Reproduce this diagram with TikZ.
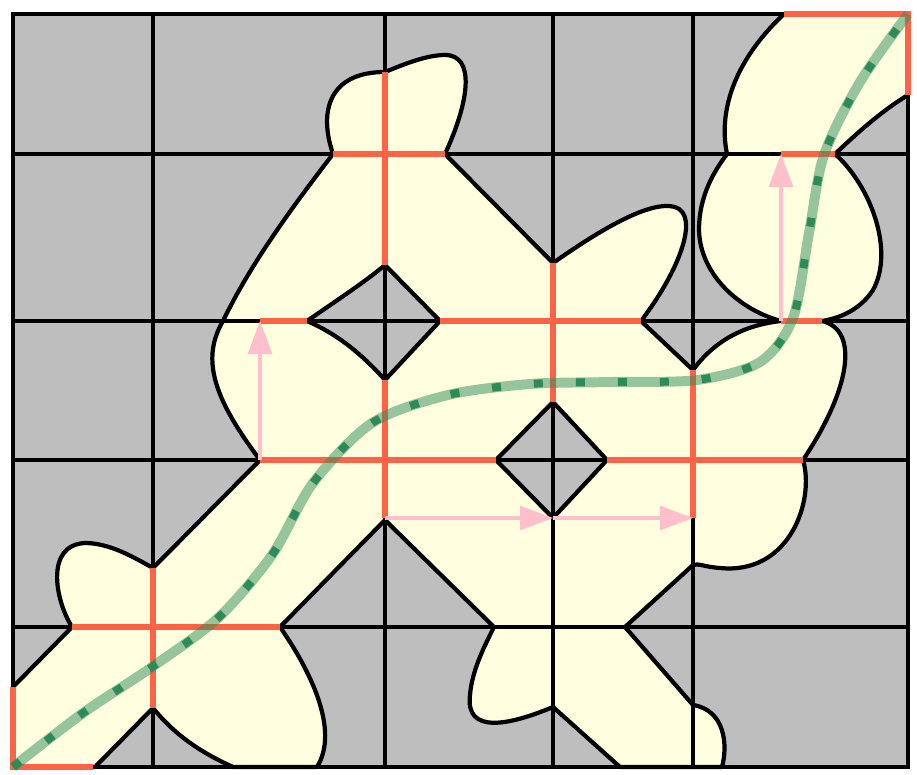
\documentclass[tikz,border=0pt]{standalone}
\usetikzlibrary{arrows.meta}
\definecolor{cellgray}{RGB}{190,190,190}
\definecolor{cellyellow}{RGB}{255,255,224}
\definecolor{tomato}{RGB}{255,99,71}
\definecolor{pinkish}{RGB}{255,192,203}
\definecolor{seagreen}{RGB}{46,139,87}
\begin{document}
\begin{tikzpicture}[x=0.3mm,y=-0.3mm,
		edge/.style={line width=3.6pt},
		cut/.style={tomato,line width=5.4pt},
		hop/.style={pinkish,line width=2.6pt,-{Triangle[length=9.9mm,width=7.2mm]}},
		route/.style={seagreen,line width=6.8pt,dash pattern=on 2.7mm off 9.9mm,
			preaction={draw,solid,seagreen,opacity=0.5,line width=8.5pt}}]
	\path
	(260,460) coordinate (A)
	(260,321) coordinate (B)
	(781,321) coordinate (C)
	(781,154) coordinate (D)
	(385,518) coordinate (E)
	(553,518) coordinate (F)
	(693,518) coordinate (G)
	(13,767) coordinate (S)
	(908,14) coordinate (T);
	
	\useasboundingbox (0,0) rectangle (917,775);
	\fill[cellgray] (13,14) rectangle (908,767);
	
	\path[fill=cellyellow,draw=black,edge,even odd rule,line join=round]
	(S) -- (13,687) -- (72,627)
	.. controls (55,600) and (45,545) .. (85,543)
	.. controls (110,543) and (135,558) .. (153,568)
	-- (A)
	.. controls (215,400) and (200,360) .. (223,321)
	.. controls (250,265) and (290,210) .. (333,154)
	.. controls (318,110) and (330,72) .. (385,72)
	.. controls (400,66) and (425,55) .. (445,55)
	.. controls (475,55) and (470,100) .. (445,154)
	-- (553,263)
	.. controls (600,230) and (650,200) .. (675,207)
	.. controls (700,215) and (680,270) .. (641,321)
	-- (693,370)
	.. controls (715,340) and (745,325) .. (C)
	.. controls (740,310) and (700,275) .. (699,230)
	.. controls (699,195) and (715,170) .. (727,154)
	.. controls (718,110) and (735,60) .. (784,14)
	-- (T) -- (908,95)
	.. controls (880,112) and (855,135) .. (835,154)
	.. controls (870,185) and (895,250) .. (873,290)
	.. controls (860,310) and (840,318) .. (822,321)
	.. controls (860,330) and (850,390) .. (803,460)
	.. controls (815,500) and (790,575) .. (720,568)
	.. controls (705,567) and (698,563) .. (693,565)
	-- (625,627) -- (693,705)
	.. controls (725,710) and (728,745) .. (722,767)
	-- (620,767) -- (553,707)
	.. controls (510,725) and (465,735) .. (470,695)
	.. controls (472,670) and (485,645) .. (494,627)
	-- (385,520) -- (280,627)
	.. controls (310,670) and (340,730) .. (317,767)
	-- (233,767)
	.. controls (200,752) and (175,735) .. (153,708)
	-- (95,767) -- cycle
	(385,265) -- (440,321) -- (385,380)
	.. controls (360,352) and (335,333) .. (307,321)
	.. controls (330,305) and (365,282) .. (385,265) -- cycle
	(553,402) -- (607,460) -- (553,518) -- (496,460) -- cycle;
	
	\foreach \x in {153,385,553,693} \draw[edge] (\x,14) -- (\x,767);
	\foreach \y in {154,321,460,627} \draw[edge] (13,\y) -- (908,\y);
	\draw[edge] (13,14) rectangle (908,767);
	
	\draw[cut] (13,687) -- (S) -- (93,767);
	\draw[cut] (153,568) -- (153,708);
	\draw[cut] (72,627) -- (280,627);
	\draw[cut] (A) -- (496,460);
	\draw[cut] (385,380) -- (E);
	\draw[cut] (B) -- (307,321);
	\draw[cut] (440,321) -- (641,321);
	\draw[cut] (553,263) -- (553,402);
	\draw[cut] (385,72) -- (385,265);
	\draw[cut] (333,154) -- (445,154);
	\draw[cut] (607,460) -- (803,460);
	\draw[cut] (693,370) -- (G);
	\draw[cut] (C) -- (822,321);
	\draw[cut] (D) -- (835,154);
	\draw[cut] (784,14) -- (T) -- (908,95);
	
	\draw[hop] (A) -- (B);
	\draw[hop] (C) -- (D);
	\draw[hop] (E) -- (F);
	\draw[hop] (F) -- (G);
	
	\draw[route] plot[smooth,tension=0.5] coordinates {(S) (83,713) (152,667) (218,618) (272,555) (313,483) (372,423) (448,395) (530,384) (613,382) (697,380) (760,362) (793,318) (809,233) (824,155) (860,82) (T)};
\end{tikzpicture}
\end{document}
